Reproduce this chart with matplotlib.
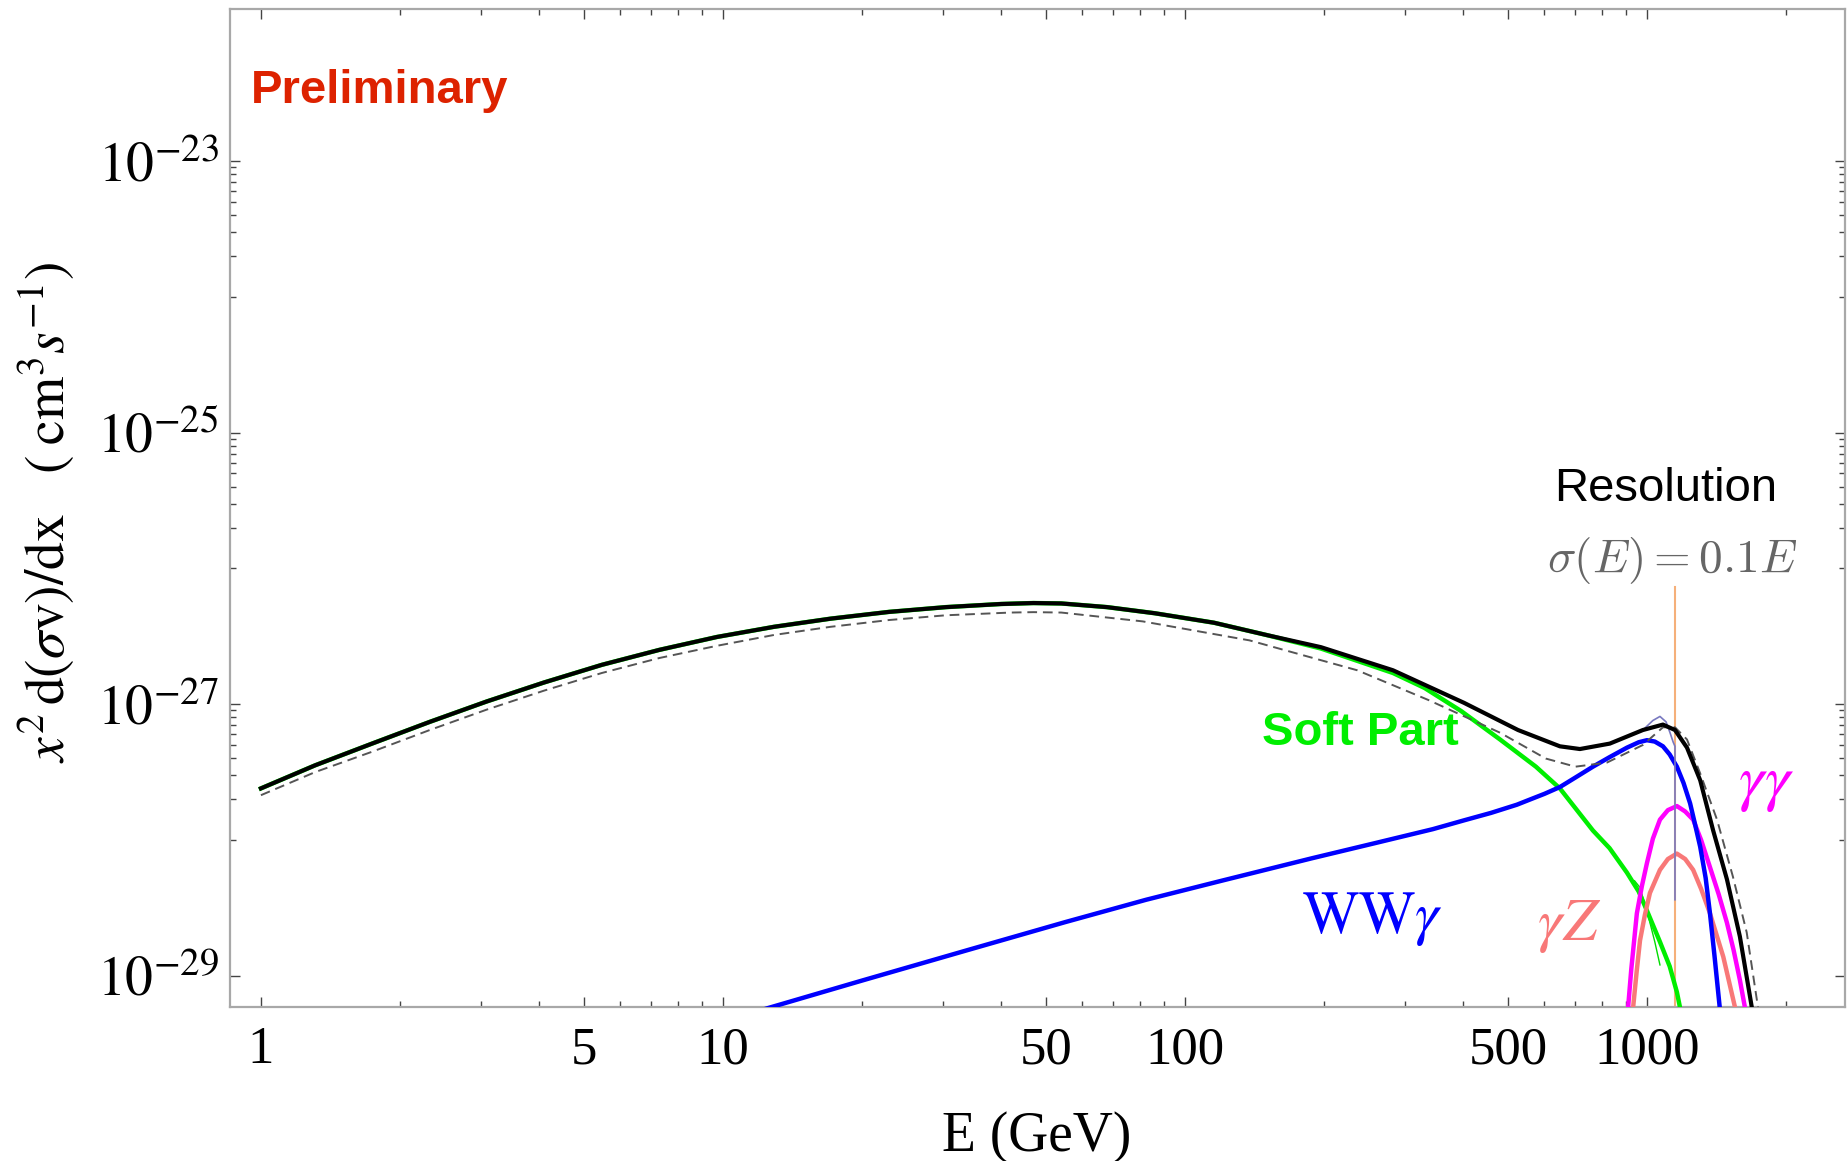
import numpy as np
import matplotlib
matplotlib.use('Agg')
import matplotlib.pyplot as plt

plt.rcParams['font.family'] = ['Liberation Serif', 'DejaVu Serif']
plt.rcParams['mathtext.fontset'] = 'stix'

# energies (GeV) and log10 of x^2 d(sigma v)/dx
e_total = [1.0, 1.31, 1.74, 2.32, 3.08, 4.10, 5.47, 7.28, 9.7, 12.9, 17.1,
           22.9, 30.4, 40, 47, 54, 67.8, 86, 115.6, 150, 197, 282, 402, 526,
           648, 716, 831, 980, 1083, 1150, 1221, 1304, 1391, 1490, 1589, 1688,
           1720]
log_total = [-27.62, -27.45, -27.29, -27.13, -26.98, -26.84, -26.71, -26.60,
             -26.505, -26.43, -26.37, -26.32, -26.285, -26.262, -26.255,
             -26.258, -26.285, -26.33, -26.40, -26.49, -26.58, -26.75, -26.99,
             -27.19, -27.31, -27.33, -27.29, -27.19, -27.15, -27.19, -27.32,
             -27.56, -27.93, -28.29, -28.71, -29.24, -29.40]

e_dashed = [1.0, 1.31, 1.74, 2.32, 3.08, 4.10, 5.47, 7.28, 9.7, 12.9, 17.1,
            22.9, 30.4, 42, 47, 54, 81, 138, 236, 337, 481, 604, 700, 819,
            980, 1083, 1150, 1221, 1304, 1418, 1535, 1644, 1730, 1760]
log_dashed = [-27.67, -27.50, -27.35, -27.19, -27.04, -26.90, -26.77, -26.66,
              -26.57, -26.49, -26.43, -26.38, -26.345, -26.325, -26.322,
              -26.325, -26.39, -26.53, -26.75, -26.97, -27.21, -27.40, -27.46,
              -27.43, -27.30, -27.17, -27.17, -27.26, -27.51, -27.85, -28.27,
              -28.68, -29.18, -29.35]

e_soft = [1.0, 1.31, 1.74, 2.32, 3.08, 4.10, 5.47, 7.28, 9.7, 12.9, 17.1,
          22.9, 30.4, 40, 47, 54, 67.8, 86, 115.6, 150, 197, 282, 330, 396,
          481, 575, 648, 764, 830, 905, 960, 1000, 1067, 1120, 1161, 1190]
log_soft = [-27.62, -27.45, -27.29, -27.13, -26.98, -26.84, -26.71, -26.60,
            -26.505, -26.43, -26.37, -26.32, -26.285, -26.262, -26.255,
            -26.258, -26.285, -26.33, -26.40, -26.49, -26.59, -26.77, -26.88,
            -27.05, -27.26, -27.46, -27.62, -27.93, -28.06, -28.24, -28.38,
            -28.52, -28.75, -28.93, -29.12, -29.30]

e_soft_thin = [940, 966, 1010, 1040, 1067]
log_soft_thin = [-28.30, -28.35, -28.58, -28.75, -28.92]

e_wwg = [11.0, 12.45, 20, 33.9, 55, 82.4, 120, 188, 260, 344, 402, 460, 523,
         560, 600, 648, 700, 764, 830, 905, 960, 1000, 1040, 1083, 1120, 1161,
         1200, 1240, 1270, 1304, 1340, 1369, 1400, 1438, 1460]
log_wwg = [-29.30, -29.24, -29.035, -28.81, -28.605, -28.44, -28.30, -28.135,
           -28.02, -27.92, -27.855, -27.80, -27.74, -27.70, -27.66, -27.61,
           -27.54, -27.46, -27.39, -27.32, -27.28, -27.265, -27.275, -27.31,
           -27.37, -27.46, -27.58, -27.73, -27.88, -28.05, -28.28, -28.54,
           -28.85, -29.24, -29.40]

e_line = [980, 1030, 1067, 1100, 1122, 1140, 1150, 1150]
log_line = [-27.19, -27.12, -27.09, -27.13, -27.21, -27.28, -27.31, -28.44]

e_gg = [880, 910, 925, 951, 975, 1000, 1030, 1067, 1110, 1161, 1210, 1259,
        1310, 1369, 1430, 1490, 1540, 1589, 1631, 1650]
log_gg = [-29.40, -29.24, -28.95, -28.54, -28.34, -28.17, -27.99, -27.85,
          -27.78, -27.75, -27.79, -27.85, -28.00, -28.20, -28.40, -28.61,
          -28.81, -29.03, -29.24, -29.35]

e_gz = [915, 933, 950, 966, 990, 1015, 1067, 1110, 1161, 1210, 1259, 1310,
        1369, 1463, 1553, 1580]
log_gz = [-29.40, -29.24, -28.97, -28.74, -28.55, -28.39, -28.22, -28.14,
          -28.10, -28.14, -28.22, -28.36, -28.54, -28.86, -29.24, -29.35]

resolution_mass = 1150
resolution_top = -26.14

x_major = [1, 5, 10, 50, 100, 500, 1000]
x_minor = [2, 3, 4, 6, 7, 8, 9, 20, 30, 40, 60, 70, 80, 90,
           200, 300, 400, 600, 700, 800, 900, 2000]
y_major_exp = [-23, -25, -27, -29]

fig = plt.figure(figsize=(18.47, 11.61), dpi=100)
ax = fig.add_axes([0.1245, 0.1326, 0.8744, 0.8596])
ax.set_xscale('log')
ax.set_yscale('log')

ax.plot([resolution_mass, resolution_mass], [1e-30, 10 ** resolution_top],
        color='#f5b07a', lw=1.5, zorder=1)
ax.plot(e_soft_thin, 10 ** np.array(log_soft_thin), color='#00dd00', lw=1.0,
        zorder=2)
ax.plot(e_soft, 10 ** np.array(log_soft), color='#00ee00', lw=3.2, zorder=3,
        solid_joinstyle='round')
ax.plot(e_gz, 10 ** np.array(log_gz), color='#f87878', lw=3.2, zorder=3,
        solid_joinstyle='round')
ax.plot(e_gg, 10 ** np.array(log_gg), color='#ff00ff', lw=3.2, zorder=4,
        solid_joinstyle='round')
ax.plot(e_wwg, 10 ** np.array(log_wwg), color='#0000ff', lw=3.2, zorder=4,
        solid_joinstyle='round')
ax.plot(e_line, 10 ** np.array(log_line), color='#7878c0', lw=1.2, zorder=5)
ax.plot(e_dashed, 10 ** np.array(log_dashed), color='#555555', lw=1.4,
        dashes=(5, 3), zorder=5)
ax.plot(e_total, 10 ** np.array(log_total), color='black', lw=3.0, zorder=6,
        solid_joinstyle='round')

ax.set_xticks(x_major)
ax.set_xticklabels([str(v) for v in x_major])
ax.set_xticks(x_minor, minor=True)
ax.set_xticklabels([], minor=True)
ax.set_yticks([10.0 ** e for e in y_major_exp])
ax.set_yticklabels([r'$10^{%d}$' % e for e in y_major_exp])
ax.set_yticks([k * 10.0 ** (e - 1) for e in y_major_exp[:-1]
               for k in range(1, 10)], minor=True)
ax.set_yticklabels([], minor=True)

# limits after the ticks, so the tick lists do not widen the view
ax.set_xlim(0.857, 2683)
ax.set_ylim(10 ** -29.23, 10 ** -21.881)

ax.tick_params(which='both', direction='in', top=True, right=True,
               color='#444444', width=1.0)
ax.tick_params(axis='x', which='major', length=7, labelsize=38, pad=14)
ax.tick_params(axis='x', which='minor', length=4)
ax.tick_params(axis='y', which='major', length=7, labelsize=40, pad=8)
ax.tick_params(axis='y', which='minor', length=4.3)
for sp in ax.spines.values():
    sp.set_color('#a8a8a8')
    sp.set_linewidth(1.6)

fig.text(46 / 1847, 1 - 513 / 1161,
         r'$x^2\,\mathrm{d}(\sigma\mathrm{v})/\mathrm{dx}\quad(\;\mathrm{cm}^3 s^{-1})$',
         rotation=90, ha='center', va='center', fontsize=40)
fig.text(1037 / 1847, 1 - 1137 / 1161, 'E (GeV)', ha='center', va='center',
         fontsize=40)

ax.text(0.013, 0.906, 'Preliminary', transform=ax.transAxes, ha='left',
        va='baseline', fontsize=34, fontweight='bold', color='#dd2200',
        family=['Liberation Sans', 'DejaVu Sans'])
ax.text(0.889, 0.507, 'Resolution', transform=ax.transAxes, ha='center',
        va='baseline', fontsize=34, color='black',
        family=['Liberation Sans', 'DejaVu Sans'])
ax.text(0.893, 0.436, r'$\sigma(E) = 0.1E$', transform=ax.transAxes,
        ha='center', va='baseline', fontsize=34, color='#666666',
        math_fontfamily='cm')
ax.text(0.639, 0.2625, 'Soft Part', transform=ax.transAxes, ha='left',
        va='baseline', fontsize=34, fontweight='bold', color='#00ee00',
        family=['Liberation Sans', 'DejaVu Sans'])
ax.text(0.664, 0.074, r'$\mathrm{WW}\gamma$', transform=ax.transAxes,
        ha='left', va='baseline', fontsize=43, color='#0000ff')
ax.text(0.809, 0.067, r'$\gamma Z$', transform=ax.transAxes, ha='left',
        va='baseline', fontsize=44, color='#f87878')
ax.text(0.934, 0.208, r'$\gamma\gamma$', transform=ax.transAxes, ha='left',
        va='baseline', fontsize=46, color='#ff00ff')

fig.savefig('out.png', dpi=100)
